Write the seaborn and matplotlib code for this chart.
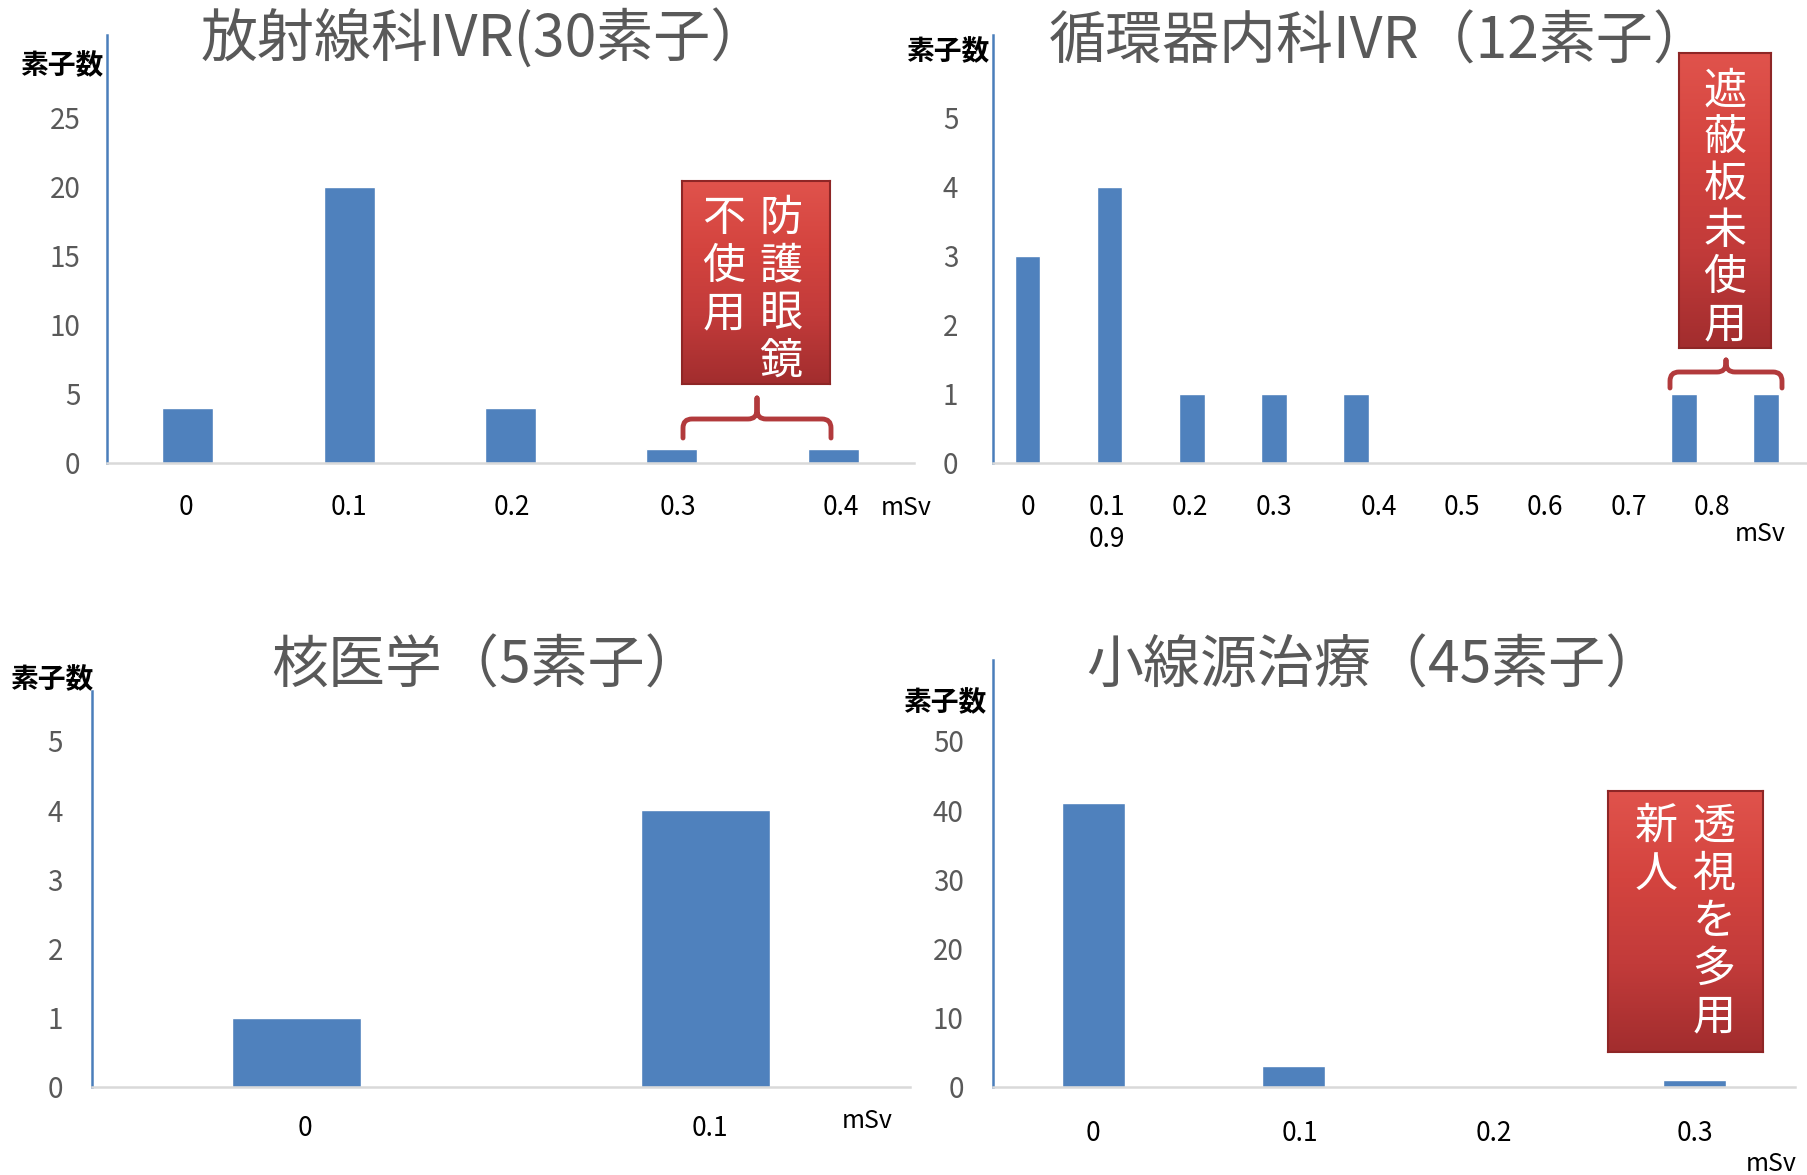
import numpy as np
import matplotlib
matplotlib.use("Agg")
import matplotlib.pyplot as plt
import seaborn as sns
from matplotlib.path import Path
from matplotlib.patches import PathPatch
from matplotlib.colors import LinearSegmentedColormap

sns.set_style("white")
plt.rcParams['font.family'] = ['Noto Sans CJK JP', 'DejaVu Sans']

# ---- data (dose in mSv -> number of elements) ----
rad_labels = ["0", "0.1", "0.2", "0.3", "0.4"]
rad_counts = [4, 20, 4, 1, 1]

card_labels = ["0", "0.1", "0.2", "0.3", "0.4", "0.5", "0.6", "0.7", "0.8", "0.9"]
card_counts = [3, 4, 1, 1, 1, 0, 0, 0, 1, 1]

nuc_labels = ["0", "0.1"]
nuc_counts = [1, 4]

brachy_labels = ["0", "0.1", "0.2", "0.3"]
brachy_counts = [41, 3, 0, 1]

titles = ["放射線科IVR(30素子）", "循環器内科IVR（12素子）", "核医学（5素子）", "小線源治療（45素子）"]
rad_yticks = [0, 5, 10, 15, 20, 25]
card_yticks = [0, 1, 2, 3, 4, 5]
nuc_yticks = [0, 1, 2, 3, 4, 5]
brachy_yticks = [0, 10, 20, 30, 40, 50]

W, H = 1807, 1175
BLUE = "#4F81BD"
SPINE_BLUE = "#4A7EBB"
GRAY_TXT = "#595959"


def rect(l, t, r, b):
    return [l / W, 1 - b / H, (r - l) / W, (b - t) / H]


def fx(x, y):
    return x / W, 1 - y / H


fig = plt.figure(figsize=(W / 100, H / 100), dpi=100)


def panel(r, labels, counts, yticks, ylim, xlim, ypad, xpad):
    ax = fig.add_axes(rect(*r))
    sns.barplot(x=labels, y=counts, order=labels, ax=ax, color=BLUE,
                width=0.315, saturation=1)
    ax.set_xlim(*xlim)
    ax.set_ylim(0, ylim)
    ax.set_yticks(yticks)
    ax.set_xlabel("")
    ax.set_ylabel("")
    for s in ["top", "right"]:
        ax.spines[s].set_visible(False)
    ax.spines["left"].set_color(SPINE_BLUE)
    ax.spines["left"].set_linewidth(1.8)
    ax.spines["bottom"].set_color("#D9D9D9")
    ax.spines["bottom"].set_linewidth(1.8)
    ax.tick_params(axis="y", length=0, labelsize=20, labelcolor=GRAY_TXT, pad=ypad)
    ax.tick_params(axis="x", length=0, labelsize=19, labelcolor="black", pad=xpad)
    return ax


ax1 = panel((107, 35, 914, 463), rad_labels, rad_counts, rad_yticks, 31, (-0.5, 4.5), 19, 22)
ax2 = panel((993, 35, 1807, 463), card_labels, card_counts, card_yticks, 6.2, (-0.42, 9.5), 25, 22)
ax3 = panel((92, 691, 910, 1087), nuc_labels, nuc_counts, nuc_yticks, 5.72, (-0.5, 1.5), 21, 20)
ax4 = panel((993, 660, 1795, 1087), brachy_labels, brachy_counts, brachy_yticks, 61.7, (-0.5, 3.5), 21, 24)

# the slide's tick labels sit slightly off the bar centres
ax1.set_xticks([-0.01, 1.0, 2.01, 3.04, 4.05], rad_labels)
ax3.set_xticks([0.02, 1.01], nuc_labels)
ax4.set_xticks([0, 1.03, 2.0, 3.0], brachy_labels)

# cardiology labels were shifted / wrapped in the original slide
card_tick_pos = [0, 0.97, 1.98, 3.0, 4.28, 5.29, 6.3, 7.33, 8.34]
card_tick_txt = [card_labels[0], card_labels[1] + "\n" + card_labels[9]] + card_labels[2:9]
ax2.set_xticks(card_tick_pos, card_tick_txt, linespacing=1.25)

# titles
for t, (x, y) in zip(titles, [(484, 40), (1380, 42), (486, 666), (1374, 666)]):
    fig.text(*fx(x, y), t, ha="center", va="center", fontsize=41, color=GRAY_TXT)

# y axis unit labels
for (x, y) in [(62, 66), (948, 52), (52, 680), (945, 703)]:
    fig.text(*fx(x, y), "素子数", ha="center", va="center", fontsize=20,
             fontweight="bold", color="black")

# x axis unit labels
for (x, y) in [(906, 508), (1760, 534), (867, 1121), (1771, 1164)]:
    fig.text(*fx(x, y), "mSv", ha="center", va="center", fontsize=18, color="black")

# red callout boxes
red_cmap = LinearSegmentedColormap.from_list("callout", ["#E0534C", "#D4443F", "#C23B3A", "#A22D2E"])
grad = np.linspace(0, 1, 256).reshape(-1, 1)


def callout(r, columns):
    bx = fig.add_axes(rect(*r))
    bx.imshow(grad, aspect="auto", cmap=red_cmap, extent=[0, 1, 0, 1])
    bx.set_xticks([])
    bx.set_yticks([])
    for s in bx.spines.values():
        s.set_color("#8E2626")
        s.set_linewidth(1.5)
    for text, x, y0, step in columns:
        for i, ch in enumerate(text):
            fig.text(*fx(x, y0 + i * step), ch, ha="center", va="center",
                     fontsize=31, color="white")


callout((682, 181, 830, 384), [("防護眼鏡", 781, 219, 47.5), ("不使用", 724, 219, 47.5)])
callout((1679, 53, 1771, 348), [("遮蔽板未使用", 1725, 92, 46.6)])
callout((1608, 791, 1763, 1052), [("透視を多用", 1714, 827, 47.5), ("新人", 1656, 827, 47.5)])


def brace(x0, x1, yend, yh, ypk, r=9):
    xc = (x0 + x1) / 2
    pts = [(x0, yend), (x0, yh + r), (x0, yh), (x0 + r, yh), (xc - r, yh),
           (xc, yh), (xc, yh - r), (xc, ypk), (xc, yh - r), (xc, yh), (xc + r, yh),
           (x1 - r, yh), (x1, yh), (x1, yh + r), (x1, yend)]
    codes = [Path.MOVETO, Path.LINETO, Path.CURVE3, Path.CURVE3, Path.LINETO,
             Path.CURVE3, Path.CURVE3, Path.LINETO, Path.LINETO, Path.CURVE3, Path.CURVE3,
             Path.LINETO, Path.CURVE3, Path.CURVE3, Path.LINETO]
    verts = [fx(x, y) for x, y in pts]
    fig.add_artist(PathPatch(Path(verts, codes), transform=fig.transFigure, fill=False,
                             edgecolor="#B23A3C", lw=3.5, joinstyle="round", capstyle="round"))


brace(683, 831, 438, 419, 398)
brace(1670, 1782, 388, 372, 360)

fig.savefig("out.png", dpi=100)
